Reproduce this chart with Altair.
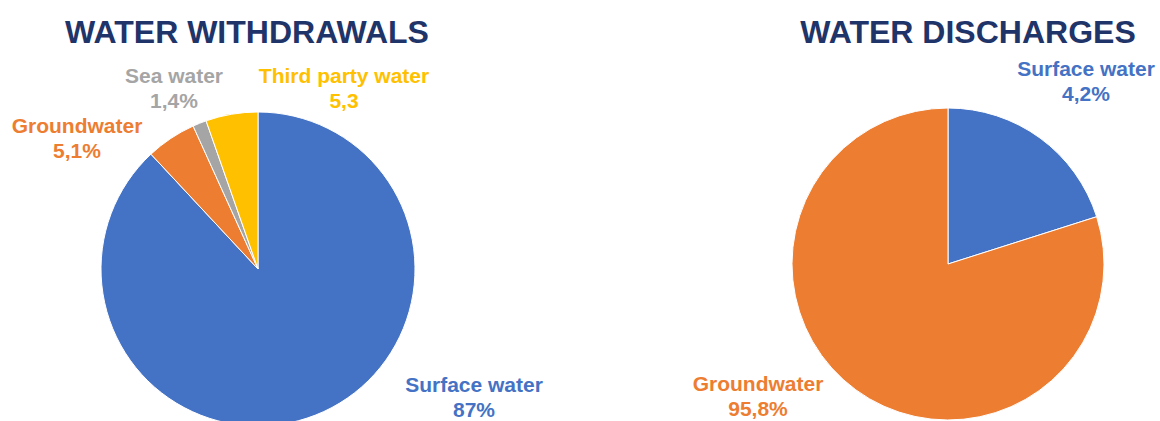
import altair as alt
import pandas as pd

# ---- data ----
withdrawal_categories = ["Surface water", "Groundwater", "Sea water", "Third party water"]
withdrawal_values = [87.0, 5.1, 1.4, 5.3]
withdrawal_labels = ["87%", "5,1%", "1,4%", "5,3"]

discharge_categories = ["Surface water", "Groundwater"]
# slice shares as drawn in the picture (the printed labels differ)
discharge_values = [20.1, 79.9]
discharge_labels = ["4,2%", "95,8%"]

titles = ["WATER WITHDRAWALS", "WATER DISCHARGES"]

palette = {
    "Surface water": "#4472C4",
    "Groundwater": "#ED7D31",
    "Sea water": "#A5A5A5",
    "Third party water": "#FFC000",
}
TITLE_COLOR = "#1F3468"
FONT = "Liberation Sans"

W, H = 1160, 421


def pie_df(cats, vals):
    return pd.DataFrame({
        "category": cats,
        "value": vals,
        "order": list(range(len(cats))),
        "color": [palette[c] for c in cats],
    })


def pie(df, cx, cy, r):
    return alt.Chart(df).mark_arc(outerRadius=r, stroke="white", strokeWidth=1).encode(
        theta=alt.Theta("value:Q", stack=True),
        order=alt.Order("order:Q"),
        color=alt.Color("color:N", scale=None),
        x=alt.value(cx),
        y=alt.value(cy),
    )


def label(cat, txt, x, y):
    df = pd.DataFrame({"t": [cat + "\n" + txt]})
    return alt.Chart(df).mark_text(
        font=FONT, fontSize=21, fontWeight="bold", color=palette[cat],
        align="center", baseline="alphabetic", lineBreak="\n", lineHeight=25,
    ).encode(text="t:N", x=alt.value(x), y=alt.value(y))


def title(txt, x, y):
    df = pd.DataFrame({"t": [txt]})
    return alt.Chart(df).mark_text(
        font=FONT, fontSize=32, fontWeight="bold", color=TITLE_COLOR,
        align="center", baseline="alphabetic",
    ).encode(text="t:N", x=alt.value(x), y=alt.value(y))


left = pie(pie_df(withdrawal_categories, withdrawal_values), 258, 269, 157)
right = pie(pie_df(discharge_categories, discharge_values), 948, 264, 156)

layers = [
    left,
    right,
    title(titles[0], 247, 43),
    title(titles[1], 968, 43),
    label(withdrawal_categories[0], withdrawal_labels[0], 474, 392),
    label(withdrawal_categories[1], withdrawal_labels[1], 77, 133),
    label(withdrawal_categories[2], withdrawal_labels[2], 174, 83),
    label(withdrawal_categories[3], withdrawal_labels[3], 344, 83),
    label(discharge_categories[0], discharge_labels[0], 1086, 76),
    label(discharge_categories[1], discharge_labels[1], 758, 391),
]

chart = alt.layer(*layers).resolve_scale(theta="independent").properties(
    width=W, height=H, autosize=alt.AutoSizeParams(type="none"), padding=0,
    background="white",
).configure_view(stroke=None)

chart.save("out.html", embed_options={"renderer": "svg", "actions": False})
